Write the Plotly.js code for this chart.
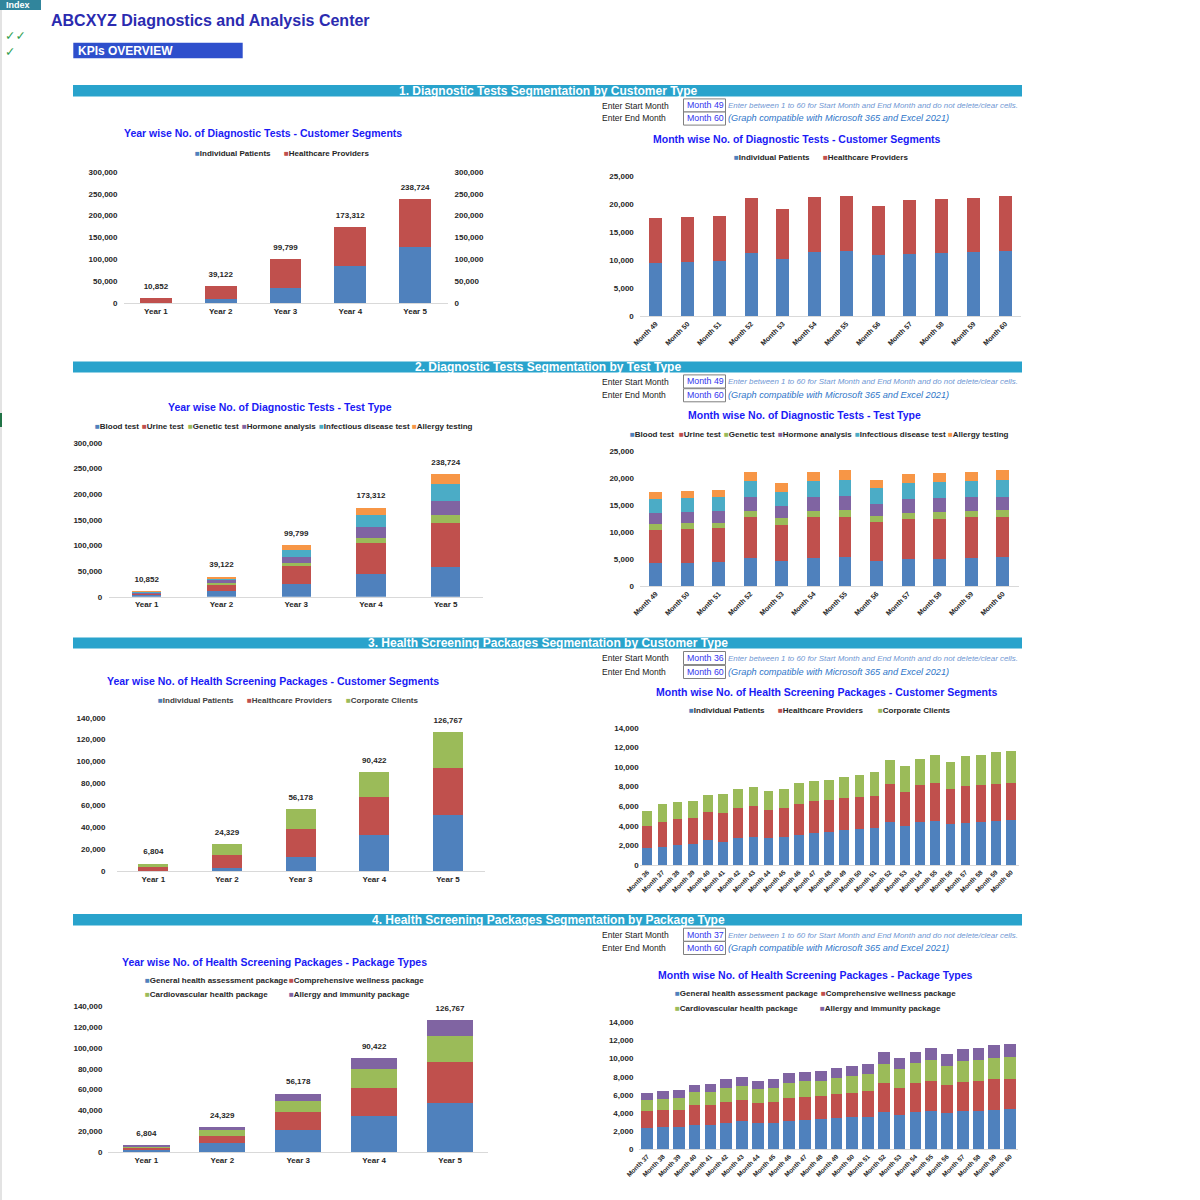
<!DOCTYPE html>
<html>
<head>
<meta charset="utf-8">
<script src="https://cdn.plot.ly/plotly-3.0.1.min.js"></script>
<style>html,body{margin:0;padding:0;background:#fff}#chart{width:1200px;height:1200px}</style>
</head>
<body>
<div id="chart"></div>
<script>
// ---------------- DATA ----------------
const years = ['Year 1', 'Year 2', 'Year 3', 'Year 4', 'Year 5'];
const customerNames = ['Individual Patients', 'Healthcare Providers', 'Corporate Clients'];
const testNames = ['Blood test', 'Urine test', 'Genetic test', 'Hormone analysis', 'Infectious disease test', 'Allergy testing'];
const packageNames = ['General health assessment package', 'Comprehensive wellness package',
  'Cardiovascular health package', 'Allergy and immunity package'];

// 1. Diagnostic tests by customer type
const diagYearTotals = [10852, 39122, 99799, 173312, 238724];
const diagYearIndividual = [700, 9000, 35500, 85800, 129000];
const diagYearHealthcare = [10152, 30122, 64299, 87512, 109724];

const diagMonths = ['Month 49', 'Month 50', 'Month 51', 'Month 52', 'Month 53', 'Month 54',
  'Month 55', 'Month 56', 'Month 57', 'Month 58', 'Month 59', 'Month 60'];
const diagMonthIndividual = [9400, 9600, 9760, 11200, 10200, 11400, 11670, 10830, 11000, 11250, 11430, 11670];
const diagMonthHealthcare = [8040, 8000, 8100, 9900, 8850, 9800, 9730, 8770, 9700, 9650, 9670, 9730];

// 2. Diagnostic tests by test type
const testYearBlood = [2500, 10400, 25300, 44200, 58400];
const testYearUrine = [4500, 13600, 34400, 60300, 84500];
const testYearGenetic = [700, 3300, 5200, 9800, 15500];
const testYearHormone = [900, 4500, 12400, 22100, 27300];
const testYearInfectious = [1400, 4600, 14300, 22700, 33800];
const testYearAllergy = [852, 2722, 8199, 14212, 19224];
const testYearTotals = [10852, 39122, 99799, 173312, 238724];

const testMonthBlood = [4200, 4300, 4440, 5200, 4630, 5200, 5300, 4700, 5060, 5060, 5200, 5300];
const testMonthUrine = [6230, 6260, 6240, 7500, 6730, 7500, 7540, 7150, 7290, 7410, 7500, 7540];
const testMonthGenetic = [1110, 1110, 1050, 1130, 1240, 1250, 1230, 1110, 1230, 1300, 1130, 1230];
const testMonthHormone = [2040, 2030, 2170, 2590, 2200, 2590, 2600, 2290, 2470, 2460, 2590, 2470];
const testMonthInfectious = [2520, 2530, 2520, 3020, 2670, 2960, 3030, 2850, 2950, 2970, 3020, 3160];
const testMonthAllergy = [1340, 1370, 1440, 1660, 1580, 1700, 1700, 1500, 1700, 1700, 1660, 1700];

// 3. Health screening packages by customer type
const hspYearTotals = [6804, 24329, 56178, 90422, 126767];
const hspYearIndividual = [200, 3000, 13100, 32600, 50800];
const hspYearHealthcare = [3700, 11600, 25200, 35000, 43200];
const hspYearCorporate = [2904, 9729, 17878, 22822, 32767];

const hspMonths = ['Month 36', 'Month 37', 'Month 38', 'Month 39', 'Month 40', 'Month 41', 'Month 42',
  'Month 43', 'Month 44', 'Month 45', 'Month 46', 'Month 47', 'Month 48', 'Month 49', 'Month 50',
  'Month 51', 'Month 52', 'Month 53', 'Month 54', 'Month 55', 'Month 56', 'Month 57', 'Month 58',
  'Month 59', 'Month 60'];
const hspMonthIndividual = [1700, 1870, 2040, 2140, 2550, 2340, 2720, 2890, 2750, 2890, 3060, 3230, 3360,
  3570, 3700, 3800, 4350, 3940, 4380, 4520, 4180, 4320, 4380, 4490, 4590];
const hspMonthHealthcare = [2240, 2510, 2620, 2620, 2890, 2960, 3090, 3160, 2890, 2920, 3190, 3260, 3230,
  3230, 3230, 3230, 3940, 3540, 3740, 3870, 3530, 3770, 3810, 3800, 3800];
const hspMonthCorporate = [1600, 1800, 1730, 1730, 1700, 1900, 1940, 1930, 1940, 1900, 2110, 2070, 2070,
  2200, 2240, 2420, 2410, 2610, 2650, 2820, 2820, 3020, 3020, 3190, 3200];

// 4. Health screening packages by package type
const pkgYearGeneral = [2800, 9200, 21400, 34400, 47500];
const pkgYearComprehensive = [1400, 6700, 16900, 26800, 39200];
const pkgYearCardio = [1600, 5500, 10800, 18200, 24600];
const pkgYearAllergy = [1004, 2929, 7078, 11022, 15467];
const pkgYearTotals = [6804, 24329, 56178, 90422, 126767];

const pkgMonths = ['Month 37', 'Month 38', 'Month 39', 'Month 40', 'Month 41', 'Month 42', 'Month 43',
  'Month 44', 'Month 45', 'Month 46', 'Month 47', 'Month 48', 'Month 49', 'Month 50', 'Month 51',
  'Month 52', 'Month 53', 'Month 54', 'Month 55', 'Month 56', 'Month 57', 'Month 58', 'Month 59',
  'Month 60'];
const pkgMonthGeneral = [2350, 2430, 2460, 2720, 2720, 2940, 3090, 2900, 2940, 3160, 3270, 3350, 3460,
  3570, 3600, 4080, 3820, 4120, 4260, 4000, 4230, 4260, 4370, 4450];
const pkgMonthComprehensive = [1840, 1910, 1920, 2130, 2170, 2320, 2310, 2250, 2280, 2500, 2500, 2530,
  2640, 2680, 2800, 3200, 2980, 3160, 3310, 3130, 3200, 3310, 3350, 3340];
const pkgMonthCardio = [1210, 1210, 1280, 1440, 1400, 1540, 1620, 1500, 1540, 1660, 1730, 1690, 1800,
  1800, 1870, 2130, 2060, 2210, 2250, 2100, 2280, 2250, 2320, 2360];
const pkgMonthAllergy = [780, 840, 830, 850, 910, 950, 960, 930, 950, 1040, 1060, 1090, 1100, 1120, 1180,
  1290, 1230, 1280, 1390, 1300, 1400, 1390, 1440, 1440];

// Page texts
const sectionTitles = [
  '1. Diagnostic Tests Segmentation by Customer Type',
  '2. Diagnostic Tests Segmentation by Test Type',
  '3. Health Screening Packages Segmentation by Customer Type',
  '4. Health Screening Packages Segmentation by Package Type'];
const chartTitles = [
  'Year wise No. of Diagnostic Tests - Customer Segments',
  'Month wise No. of Diagnostic Tests - Customer Segments',
  'Year wise No. of Diagnostic Tests - Test Type',
  'Month wise No. of Diagnostic Tests - Test Type',
  'Year wise No. of Health Screening Packages - Customer Segments',
  'Month wise No. of Health Screening Packages - Customer Segments',
  'Year wise No. of Health Screening Packages - Package Types',
  'Month wise No. of Health Screening Packages - Package Types'];
const startMonthLabels = ['Month 49', 'Month 49', 'Month 36', 'Month 37'];
const endMonthLabels = ['Month 60', 'Month 60', 'Month 60', 'Month 60'];

// ---------------- STYLE / LAYOUT HELPERS ----------------
const FONT = 'Liberation Sans, Arial, Helvetica, sans-serif';
const COL = {blue: '#4F81BD', red: '#C0504D', green: '#9BBB59', purple: '#8064A2', aqua: '#4BACC6', orange: '#F79646'};
const W = 1200, H = 1200;
const px = v => v / W;
const py = v => 1 - v / H;

const traces = [];
function bar(x, y, name, color, n, width) {
  const s = n === 1 ? '' : String(n);
  traces.push({type: 'bar', x: x, y: y, name: name, xaxis: 'x' + s, yaxis: 'y' + s,
    marker: {color: color, line: {width: 0}}, width: width, showlegend: false,
    hoverinfo: 'x+y+name'});
}
function totals(x, y, xa, ya) {
  traces.push({type: 'scatter', mode: 'markers+text', x: x, y: y, xaxis: xa, yaxis: ya,
    marker: {size: 10, opacity: 0},
    text: y.map(v => v.toLocaleString('en-US')), textposition: 'top center',
    textfont: {family: FONT, size: 8, color: '#262626', weight: 'bold'},
    cliponaxis: false, showlegend: false, hoverinfo: 'skip'});
}

// Chart 1
bar(years, diagYearIndividual, customerNames[0], COL.blue, 1, 0.49);
bar(years, diagYearHealthcare, customerNames[1], COL.red, 1, 0.49);
totals(years, diagYearTotals, 'x', 'y9');
// Chart 2
bar(diagMonths, diagMonthIndividual, customerNames[0], COL.blue, 2, 0.41);
bar(diagMonths, diagMonthHealthcare, customerNames[1], COL.red, 2, 0.41);
// Chart 3
bar(years, testYearBlood, testNames[0], COL.blue, 3, 0.39);
bar(years, testYearUrine, testNames[1], COL.red, 3, 0.39);
bar(years, testYearGenetic, testNames[2], COL.green, 3, 0.39);
bar(years, testYearHormone, testNames[3], COL.purple, 3, 0.39);
bar(years, testYearInfectious, testNames[4], COL.aqua, 3, 0.39);
bar(years, testYearAllergy, testNames[5], COL.orange, 3, 0.39);
totals(years, testYearTotals, 'x3', 'y3');
// Chart 4
bar(diagMonths, testMonthBlood, testNames[0], COL.blue, 4, 0.41);
bar(diagMonths, testMonthUrine, testNames[1], COL.red, 4, 0.41);
bar(diagMonths, testMonthGenetic, testNames[2], COL.green, 4, 0.41);
bar(diagMonths, testMonthHormone, testNames[3], COL.purple, 4, 0.41);
bar(diagMonths, testMonthInfectious, testNames[4], COL.aqua, 4, 0.41);
bar(diagMonths, testMonthAllergy, testNames[5], COL.orange, 4, 0.41);
// Chart 5
bar(years, hspYearIndividual, customerNames[0], COL.blue, 5, 0.41);
bar(years, hspYearHealthcare, customerNames[1], COL.red, 5, 0.41);
bar(years, hspYearCorporate, customerNames[2], COL.green, 5, 0.41);
totals(years, hspYearTotals, 'x5', 'y5');
// Chart 6
bar(hspMonths, hspMonthIndividual, customerNames[0], COL.blue, 6, 0.64);
bar(hspMonths, hspMonthHealthcare, customerNames[1], COL.red, 6, 0.64);
bar(hspMonths, hspMonthCorporate, customerNames[2], COL.green, 6, 0.64);
// Chart 7
bar(years, pkgYearGeneral, packageNames[0], COL.blue, 7, 0.61);
bar(years, pkgYearComprehensive, packageNames[1], COL.red, 7, 0.61);
bar(years, pkgYearCardio, packageNames[2], COL.green, 7, 0.61);
bar(years, pkgYearAllergy, packageNames[3], COL.purple, 7, 0.61);
totals(years, pkgYearTotals, 'x7', 'y7');
// Chart 8
bar(pkgMonths, pkgMonthGeneral, packageNames[0], COL.blue, 8, 0.74);
bar(pkgMonths, pkgMonthComprehensive, packageNames[1], COL.red, 8, 0.74);
bar(pkgMonths, pkgMonthCardio, packageNames[2], COL.green, 8, 0.74);
bar(pkgMonths, pkgMonthAllergy, packageNames[3], COL.purple, 8, 0.74);

// ---------------- AXES ----------------
const tickFont = {family: FONT, size: 8, color: '#262626', weight: 'bold'};
function xax(x0, x1, anchor, angle, size) {
  return {type: 'category', domain: [px(x0), px(x1)], anchor: anchor, showline: true,
    linecolor: '#D9D9D9', linewidth: 1, ticks: '', showgrid: false, zeroline: false,
    tickangle: angle, tickfont: Object.assign({}, tickFont, {size: size}), fixedrange: true};
}
function yax(top, bottom, anchor, max, dtick, standoff) {
  return {domain: [py(bottom), py(top)], anchor: anchor, range: [0, max], dtick: dtick,
    tickformat: ',d', showgrid: false, zeroline: false, showline: false, ticks: '',
    ticklabelstandoff: standoff, tickfont: tickFont, fixedrange: true};
}
const layout = {
  width: W, height: H, margin: {l: 0, r: 0, t: 0, b: 0, autoexpand: false},
  paper_bgcolor: '#ffffff', plot_bgcolor: 'rgba(0,0,0,0)',
  barmode: 'stack', showlegend: false, hovermode: 'closest',
  font: {family: FONT, color: '#262626'},
  xaxis: xax(123.5, 447.5, 'y', 0, 8),
  yaxis: yax(172, 303, 'x', 300000, 50000, 5),
  yaxis9: Object.assign(yax(172, 303, 'x', 300000, 50000, 6), {overlaying: 'y', side: 'right'}),
  xaxis2: xax(639.8, 1021.2, 'y2', -45, 7),
  yaxis2: yax(176, 316, 'x2', 25000, 5000, 5),
  xaxis3: xax(109.3, 483.1, 'y3', 0, 8),
  yaxis3: yax(442.7, 596.7, 'x3', 300000, 50000, 6),
  xaxis4: xax(639.9, 1018.5, 'y4', -45, 7),
  yaxis4: yax(451, 586, 'x4', 25000, 5000, 5),
  xaxis5: xax(116.5, 484.8, 'y5', 0, 8),
  yaxis5: yax(717.7, 871, 'x5', 140000, 20000, 10),
  xaxis6: xax(639.7, 1018.6, 'y6', -45, 6.5),
  yaxis6: yax(727.7, 865, 'x6', 14000, 2000, 5.5),
  xaxis7: xax(108.4, 488, 'y7', 0, 8),
  yaxis7: yax(1006, 1152.3, 'x7', 140000, 20000, 5),
  xaxis8: xax(639.4, 1017.9, 'y8', -45, 6.5),
  yaxis8: yax(1022.3, 1149.3, 'x8', 14000, 2000, 5),
  shapes: [], annotations: []
};

// ---------------- PAGE DECORATION ----------------
function rect(x0, y0, x1, y1, fill, line) {
  layout.shapes.push({type: 'rect', xref: 'paper', yref: 'paper', x0: px(x0), x1: px(x1),
    y0: py(y1), y1: py(y0), fillcolor: fill, line: line || {width: 0}, layer: 'below'});
}
function ann(text, x, y, opts) {
  const o = opts || {};
  layout.annotations.push({text: text, xref: 'paper', yref: 'paper', x: px(x), y: py(y),
    xanchor: o.xanchor || 'left', yanchor: 'middle', showarrow: false, align: 'left',
    font: {family: o.family || FONT, size: o.size || 8.5, color: o.color || '#262626',
      weight: o.weight || 'normal', style: o.style || 'normal'}});
}
// legend entries (Excel-style small square + label)
function legendRow(items, y, opts) {
  items.forEach(function (it) {
    ann('<span style="color:' + it[1] + '">■</span>' + it[2], it[0], y,
      Object.assign({size: 8, weight: 'bold', color: '#262626'}, opts || {}));
  });
}

// left border of sheet
rect(0, 0, 2, 1200, '#E3E3E3');
rect(0, 413, 2, 427, '#217346');

// Index tab
rect(0, 0, 41, 10, '#31859C');
ann('Index', 4, 5, {color: '#ffffff', weight: 'bold', size: 9});
// Title
ann('ABCXYZ Diagnostics and Analysis Center', 49, 20, {color: '#2B2BB0', weight: 'bold', size: 16});
ann('✓✓<br>✓', 3, 43.5, {color: '#2E9E4F', size: 12.5, family: 'DejaVu Sans', weight: 'bold'});
// KPIs overview
rect(73.3, 42.7, 242.7, 58.3, '#2E4FCC');
ann('KPIs OVERVIEW', 76, 50.5, {color: '#ffffff', weight: 'bold', size: 12});

// Sections
const secBars = [[85, 96.5], [361.5, 372.5], [637.5, 648.5], [914, 925.5]];
const startYs = [105.7, 381.7, 658.3, 935];
const endYs = [118.3, 395, 671.7, 947.7];
for (let i = 0; i < 4; i++) {
  rect(73, secBars[i][0], 1022, secBars[i][1], '#29A3CC');
  ann(sectionTitles[i], 548, (secBars[i][0] + secBars[i][1]) / 2,
    {xanchor: 'center', color: '#ffffff', weight: 'bold', size: 12});
  ann('Enter Start Month', 599.5, startYs[i], {size: 8.5, color: '#1a1a1a'});
  ann('Enter End Month', 599.5, endYs[i], {size: 8.5, color: '#1a1a1a'});
  rect(683.5, startYs[i] - 6.8, 725.5, startYs[i] + 6.3, '#ffffff', {color: '#7F7F7F', width: 1});
  rect(683.5, endYs[i] - 6.3, 725.5, endYs[i] + 6.8, '#ffffff', {color: '#7F7F7F', width: 1});
  ann(startMonthLabels[i], 684.5, startYs[i] - 0.5, {size: 8.8, color: '#3333EE'});
  ann(endMonthLabels[i], 684.5, endYs[i], {size: 8.8, color: '#3333EE'});
  ann('Enter between 1 to 60 for Start Month and End Month and do not delete/clear cells.', 726, startYs[i],
    {size: 7.9, color: '#6F97D3', style: 'italic'});
  ann('(Graph compatible with Microsoft 365 and Excel 2021)', 726, endYs[i],
    {size: 9.2, color: '#2E75C8', style: 'italic'});
}

// Chart titles
const titlePos = [[263, 133], [797, 139], [280, 407], [804, 415], [273, 681], [826, 692], [274, 962], [815, 975]];
for (let i = 0; i < 8; i++) {
  ann(chartTitles[i], titlePos[i][0], titlePos[i][1],
    {xanchor: 'center', color: '#1A1AF5', weight: 'bold', size: 10.5});
}

// Legends
legendRow([[193, COL.blue, customerNames[0]], [282, COL.red, customerNames[1]]], 154);
legendRow([[731.5, COL.blue, customerNames[0]], [821, COL.red, customerNames[1]]], 158);
legendRow([[92.5, COL.blue, testNames[0]], [140, COL.red, testNames[1]], [185.5, COL.green, testNames[2]],
  [240, COL.purple, testNames[3]], [316.5, COL.aqua, testNames[4]], [410, COL.orange, testNames[5]]], 426);
legendRow([[628.3, COL.blue, testNames[0]], [676.5, COL.red, testNames[1]], [722.3, COL.green, testNames[2]],
  [776, COL.purple, testNames[3]], [852.5, COL.aqua, testNames[4]], [946.5, COL.orange, testNames[5]]], 434);
legendRow([[156, COL.blue, customerNames[0]], [245, COL.red, customerNames[1]], [344, COL.green, customerNames[2]]], 700.3,
  {color: '#404040'});
legendRow([[686.5, COL.blue, customerNames[0]], [776, COL.red, customerNames[1]], [875.5, COL.green, customerNames[2]]], 710.7);
legendRow([[142.5, COL.blue, packageNames[0]], [286.5, COL.red, packageNames[1]]], 980.3);
legendRow([[142.5, COL.green, packageNames[2]], [286.5, COL.purple, packageNames[3]]], 994);
legendRow([[673.3, COL.blue, packageNames[0]], [818.5, COL.red, packageNames[1]]], 993.7);
legendRow([[673.3, COL.green, packageNames[2]], [817.5, COL.purple, packageNames[3]]], 1008);

Plotly.newPlot('chart', traces, layout, {displayModeBar: false});
</script>
</body>
</html>
